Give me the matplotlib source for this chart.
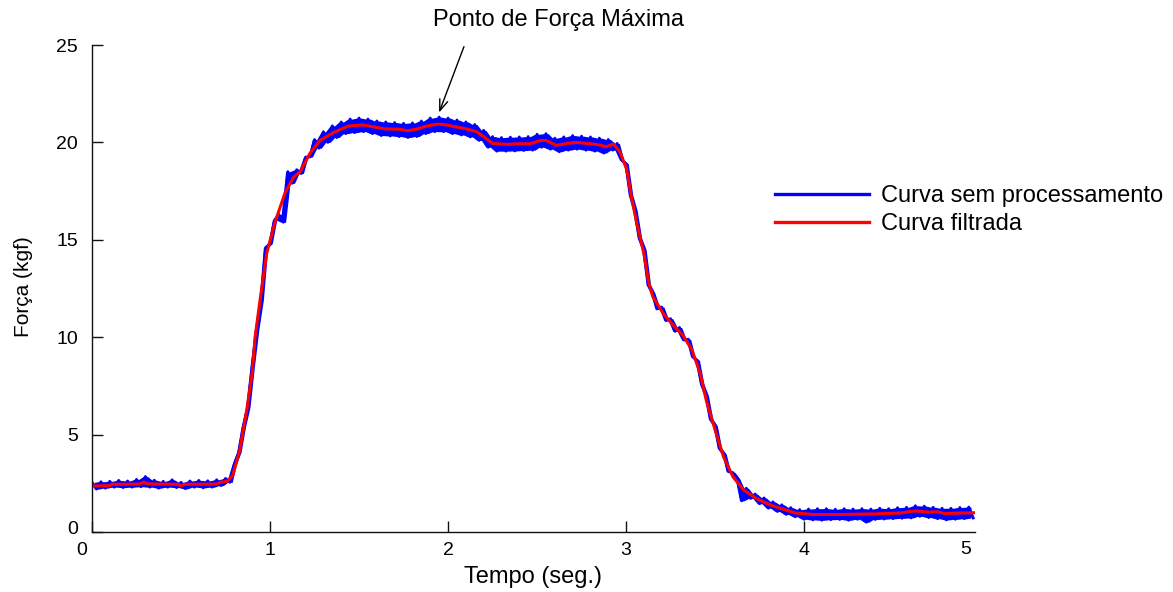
import numpy as np
import matplotlib.pyplot as plt
from matplotlib.transforms import ScaledTranslation

plt.rcParams['font.family'] = ['Liberation Sans', 'DejaVu Sans']

# sinal bruto, amostrado a cada 0.025 s
RAW_STEP = 0.025
raw_force = [
    2.55, 2.20, 2.58, 2.25, 2.60, 2.30, 2.65, 2.28, 2.62, 2.30,
    2.70, 2.32, 2.85, 2.30, 2.66, 2.25, 2.60, 2.30, 2.68, 2.28,
    2.55, 2.22, 2.62, 2.30, 2.65, 2.27, 2.63, 2.30, 2.68, 2.38,
    2.75, 2.55, 3.50, 4.10, 5.40, 6.40, 8.50, 10.4, 11.9, 14.6,
    14.8, 16.0, 16.3, 15.9, 18.5, 17.9, 18.6, 18.4, 19.25, 19.25,
    20.15, 19.7, 20.55, 20.0, 20.85, 20.25, 21.05, 20.45, 21.2, 20.5,
    21.25, 20.55, 21.2, 20.45, 21.1, 20.35, 21.05, 20.33, 21.02, 20.3,
    20.98, 20.25, 21.0, 20.3, 21.1, 20.45, 21.25, 20.55, 21.3, 20.55,
    21.25, 20.45, 21.15, 20.38, 21.05, 20.28, 20.92, 20.1, 20.62, 19.75,
    20.3, 19.55, 20.25, 19.55, 20.27, 19.56, 20.28, 19.58, 20.3, 19.6,
    20.42, 19.75, 20.45, 19.65, 20.22, 19.52, 20.28, 19.6, 20.35, 19.65,
    20.32, 19.6, 20.28, 19.55, 20.22, 19.45, 20.15, 19.6, 19.95, 19.1,
    18.9, 17.3, 16.5, 15.1, 14.5, 12.7, 12.25, 11.45, 11.55, 10.85,
    10.95, 10.3, 10.5, 9.85, 9.9, 9.0, 8.8, 7.6, 7.0, 5.8,
    5.45, 4.3, 4.0, 3.1, 3.05, 2.75, 1.6, 2.25, 1.72, 1.95,
    1.45, 1.75, 1.22, 1.55, 1.05, 1.40, 0.90, 1.25, 0.78, 1.15,
    0.65, 1.18, 0.62, 1.20, 0.60, 1.20, 0.63, 1.17, 0.64, 1.20,
    0.60, 1.18, 0.65, 1.20, 0.50, 1.18, 0.64, 1.22, 0.66, 1.20,
    0.68, 1.25, 0.70, 1.27, 0.72, 1.35, 0.80, 1.33, 0.74, 1.27,
    0.68, 1.22, 0.62, 1.22, 0.65, 1.26, 0.68, 1.28, 0.72,
]

# curva filtrada
filt_time = [
    0.0, 0.1, 0.11, 0.27, 0.29, 0.31, 0.48, 0.5, 0.52, 0.7,
    0.72, 0.76, 0.79, 0.83, 0.87, 0.9, 0.916, 0.944, 0.981, 1.028,
    1.084, 1.131, 1.169, 1.225, 1.281, 1.355, 1.44, 1.52, 1.58, 1.64,
    1.73, 1.77, 1.82, 1.88, 1.94, 1.99, 2.03, 2.10, 2.16, 2.20,
    2.25, 2.33, 2.39, 2.46, 2.52, 2.55, 2.61, 2.67, 2.72, 2.80,
    2.85, 2.89, 2.93, 2.966, 3.004, 3.03, 3.06, 3.10, 3.125, 3.15,
    3.21, 3.266, 3.32, 3.37, 3.416, 3.45, 3.50, 3.547, 3.60, 3.66,
    3.73, 3.81, 3.865, 3.95, 4.05, 4.2, 4.4, 4.55, 4.6, 4.63,
    4.7, 4.75, 4.79, 4.85, 4.96,
]
filt_force = [
    2.36, 2.38, 2.45, 2.46, 2.57, 2.47, 2.45, 2.38, 2.45, 2.46,
    2.55, 2.60, 2.90, 4.20, 6.30, 8.20, 10.0, 11.9, 14.3, 15.9,
    17.4, 18.2, 18.5, 19.45, 20.1, 20.5, 20.84, 20.9, 20.8, 20.7,
    20.67, 20.6, 20.67, 20.84, 20.94, 20.9, 20.82, 20.7, 20.55, 20.3,
    19.95, 19.9, 19.93, 19.93, 20.1, 20.1, 19.85, 19.95, 20.0, 19.93,
    19.87, 19.78, 19.92, 19.5, 18.6, 17.2, 15.85, 14.3, 12.9, 12.08,
    11.2, 10.6, 10.1, 9.34, 8.15, 6.78, 5.24, 3.87, 2.84, 2.16,
    1.73, 1.39, 1.22, 0.98, 0.90, 0.90, 0.93, 0.98, 1.06, 1.08,
    1.02, 1.04, 0.94, 0.97, 0.99,
]

y_ticks = [0, 5, 10, 15, 20, 25]
x_ticks = [0, 1, 2, 3, 4]

peak_t, peak_f = 1.944, 21.4

raw = np.array(raw_force)
raw_time = np.arange(len(raw)) * RAW_STEP
# faixa entre amostras vizinhas, para o sinal ruidoso parecer "cheio"
band_t = (raw_time[:-1] + raw_time[1:]) / 2
band_lo = np.minimum(raw[:-1], raw[1:])
band_hi = np.maximum(raw[:-1], raw[1:])

fig = plt.figure(figsize=(11.73, 5.92), dpi=100)
ax = fig.add_axes([92 / 1173, 1 - 532 / 592, 883 / 1173, 487 / 592])

ax.fill_between(band_t, band_lo, band_hi, color='#0000ff', lw=0)
ax.plot(raw_time, raw, color='#0000ff', lw=2.0, solid_joinstyle='round',
        label='Curva sem processamento')
ax.plot(filt_time, filt_force, color='#ff0000', lw=2.2, label='Curva filtrada')

ax.set_xlim(0, 4.96)
ax.set_ylim(0, 25)
ax.spines['top'].set_visible(False)
ax.spines['right'].set_visible(False)
for s in ['left', 'bottom']:
    ax.spines[s].set_color('#111111')
    ax.spines[s].set_linewidth(1.0)

ax.set_xticks(x_ticks)
ax.set_yticks(y_ticks)
ax.tick_params(axis='both', direction='in', length=8, width=1, color='#111111', labelsize=14)
ax.tick_params(axis='y', pad=10)
ax.tick_params(axis='x', pad=7)

# ajustes finos dos rotulos "0"
fig.canvas.draw()
ax.get_xticklabels()[0].set_transform(
    ax.get_xticklabels()[0].get_transform() + ScaledTranslation(-0.1, 0, fig.dpi_scale_trans))
ax.get_yticklabels()[0].set_transform(
    ax.get_yticklabels()[0].get_transform() + ScaledTranslation(0, 0.05, fig.dpi_scale_trans))

# o rotulo "5" fica um pouco antes do fim do eixo
ax.text(4.91, -0.018, '5', transform=ax.get_xaxis_transform(), ha='center', va='top',
        fontsize=14)

ax.set_xlabel('Tempo (seg.)', fontsize=17)
ax.set_ylabel('Força (kgf)', fontsize=15)
ax.xaxis.set_label_coords(0.4994, -0.07)
ax.yaxis.set_label_coords(-0.067, 0.503)

ax.annotate('', xy=(peak_t, peak_f), xytext=(2.095, 25.05),
            arrowprops=dict(arrowstyle='->,head_length=0.8,head_width=0.3', color='black', lw=1.0),
            annotation_clip=False)
ax.text(2.618, 26.3, 'Ponto de Força Máxima', ha='center', va='center', fontsize=17,
        clip_on=False)

leg = ax.legend(loc='upper left', bbox_to_anchor=(775 / 1173, 1 - 185 / 592),
                bbox_transform=fig.transFigure, frameon=False, fontsize=17,
                handlelength=4.0, handletextpad=0.5, borderpad=0, borderaxespad=0,
                labelspacing=0.25)
for line in leg.get_lines():
    line.set_linewidth(2.4)

fig.savefig('out.png', dpi=100)
